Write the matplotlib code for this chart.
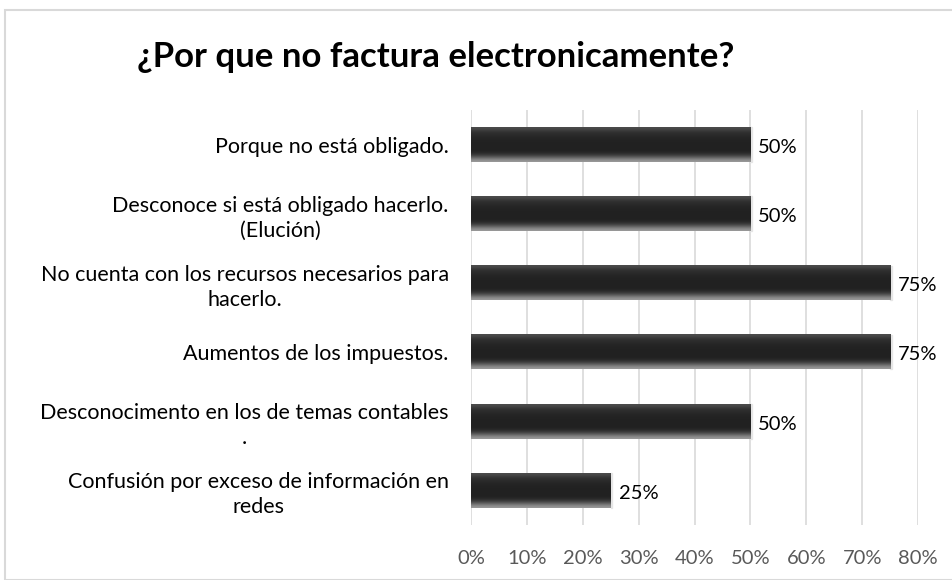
import numpy as np
import matplotlib.pyplot as plt
from matplotlib.patches import Rectangle

plt.rcParams['font.family'] = ['Lato', 'DejaVu Sans']

categorias = [
    'Porque no está obligado.',
    'Desconoce si está obligado hacerlo.\n(Elución)',
    'No cuenta con los recursos necesarios para\nhacerlo.',
    'Aumentos de los impuestos.',
    'Desconocimento en los de temas contables\n.',
    'Confusión por exceso de información en\nredes',
]
valores = [0.50, 0.50, 0.75, 0.75, 0.50, 0.25]
etiquetas = ['50%', '50%', '75%', '75%', '50%', '25%']
ticks_x = [0, 0.1, 0.2, 0.3, 0.4, 0.5, 0.6, 0.7, 0.8]
ticks_txt = ['0%', '10%', '20%', '30%', '40%', '50%', '60%', '70%', '80%']

fig = plt.figure(figsize=(9.53, 5.80), dpi=100)
# marco gris del grafico
fig.patches.append(Rectangle((5 / 953, 0), 1.0, 1 - 10 / 580, transform=fig.transFigure,
                             fill=False, edgecolor='#d9d9d9', linewidth=1.5))

ax = fig.add_axes([471 / 953, 55 / 580, (918 - 471) / 953, (525 - 110) / 580])
ax.set_xlim(0, 0.8)
ax.set_ylim(5.5, -0.5)

ypos = np.arange(len(categorias))
barras = ax.barh(ypos, valores, height=0.5, color='#262626', zorder=3)

# degradado para imitar el relieve de Excel
grad = np.array([0.6, 0.4, 0.22, 0.14, 0.13, 0.13, 0.13, 0.14, 0.15, 0.17, 0.2, 0.3]).reshape(-1, 1)
for b in barras:
    x0, y0 = b.get_x(), b.get_y()
    w, h = b.get_width(), b.get_height()
    ax.imshow(grad, cmap='gray', vmin=0, vmax=1, aspect='auto',
              extent=(x0, x0 + w, y0, y0 + h), zorder=4, interpolation='bicubic')
    ax.add_patch(Rectangle((x0 + w, y0), 0.003, h, color='#e6e6e6', zorder=2))

for y, v, t in zip(ypos, valores, etiquetas):
    ax.text(v + 0.014, y + 0.04, t, va='center', ha='left', fontsize=14.5, color='#000000')

ax.set_yticks(ypos)
ax.set_yticklabels(categorias, fontsize=15.5, color='#000000', multialignment='center',
                   linespacing=1.3)
ax.set_xticks(ticks_x)
ax.set_xticklabels(ticks_txt, fontsize=14.5, color='#595959')
ax.tick_params(axis='both', length=0)
ax.tick_params(axis='y', pad=16)
ax.tick_params(axis='x', pad=18)
ax.grid(axis='x', color='#d9d9d9', linewidth=1.2, zorder=0)
ax.set_axisbelow(True)
for s in ax.spines.values():
    s.set_visible(False)

fig.text(436 / 953, 1 - 57 / 580, '¿Por que no factura electronicamente?',
         fontsize=25, fontweight='bold', ha='center', va='center')

fig.savefig('out.png', dpi=100)
